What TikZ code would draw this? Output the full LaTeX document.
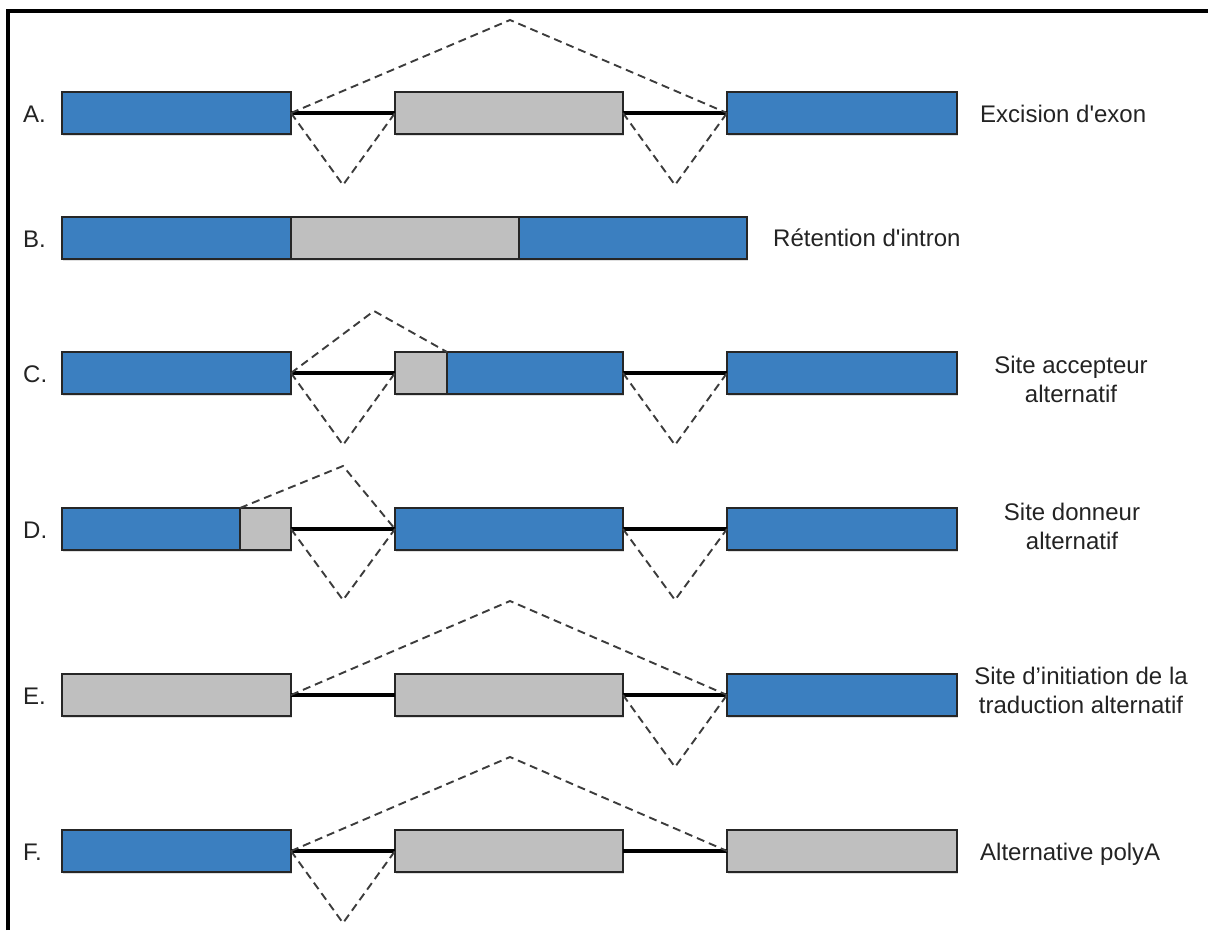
\documentclass[tikz,border=0pt]{standalone}
\usepackage{fontspec}
\setmainfont{Liberation Sans}
\usetikzlibrary{shadows}
\definecolor{exonblue}{RGB}{59,127,192}
\definecolor{introngray}{RGB}{191,191,191}
\definecolor{txt}{RGB}{35,35,35}
\definecolor{dashcol}{RGB}{60,60,60}
\begin{document}
\begin{tikzpicture}[x=1pt,y=-1pt,
  box/.style={draw=black!85, line width=1.6pt, rectangle, inner sep=0pt, outer sep=0pt, minimum height=42pt,
    drop shadow={shadow xshift=1pt, shadow yshift=-1.5pt, opacity=0.25}},
  bluebox/.style={box, fill=exonblue},
  graybox/.style={box, fill=introngray},
  intron/.style={line width=3.4pt, black},
  splice/.style={dash pattern=on 8pt off 5pt, line width=1.9pt, dashcol},
  lettertext/.style={anchor=base west, text=txt, font=\fontsize{24}{29}\selectfont, inner sep=0pt},
  desc/.style={text=txt, font=\fontsize{24}{29}\selectfont, inner sep=0pt, align=center}
]
\useasboundingbox (0,0) rectangle (1208,930);
\draw[line width=3.5pt] (8,930) -- (8,11) -- (1208,11);

% Row A
\node[bluebox, minimum width=229pt] (a1) at (176.5,113) {};
\node[graybox, minimum width=228pt] (a2) at (509,113) {};
\node[bluebox, minimum width=230pt] (a3) at (842,113) {};
\coordinate (ua) at (510,20);
\coordinate (va1) at (343,185);
\coordinate (va2) at (675,185);
\draw[intron] (a1.east) -- (a2.west);
\draw[intron] (a2.east) -- (a3.west);
\draw[splice] (a1.east) -- (ua) -- (a3.west);
\draw[splice] (a1.east) -- (va1) -- (a2.west);
\draw[splice] (a2.east) -- (va2) -- (a3.west);

% Row B
\node[bluebox, minimum width=229pt] (b1) at (176.5,238) {};
\node[graybox, minimum width=228pt] (b2) at (405,238) {};
\node[bluebox, minimum width=228pt] (b3) at (633,238) {};

% Row C
\node[bluebox, minimum width=229pt] (c1) at (176.5,373) {};
\node[graybox, minimum width=52pt] (c2) at (421,373) {};
\node[bluebox, minimum width=176pt] (c3) at (535,373) {};
\node[bluebox, minimum width=230pt] (c4) at (842,373) {};
\coordinate (uc) at (374,311);
\coordinate (vc1) at (343,445);
\coordinate (vc2) at (675,445);
\draw[intron] (c1.east) -- (c2.west);
\draw[intron] (c3.east) -- (c4.west);
\draw[splice] (c1.east) -- (uc) -- (c3.north west);
\draw[splice] (c1.east) -- (vc1) -- (c2.west);
\draw[splice] (c3.east) -- (vc2) -- (c4.west);

% Row D
\node[bluebox, minimum width=178pt] (d1) at (151,529) {};
\node[graybox, minimum width=51pt] (d2) at (265.5,529) {};
\node[bluebox, minimum width=228pt] (d3) at (509,529) {};
\node[bluebox, minimum width=230pt] (d4) at (842,529) {};
\coordinate (ud) at (343,466);
\coordinate (vd1) at (343,600);
\coordinate (vd2) at (675,600);
\draw[intron] (d2.east) -- (d3.west);
\draw[intron] (d3.east) -- (d4.west);
\draw[splice] (d2.north west) -- (ud) -- (d3.west);
\draw[splice] (d2.east) -- (vd1) -- (d3.west);
\draw[splice] (d3.east) -- (vd2) -- (d4.west);

% Row E
\node[graybox, minimum width=229pt] (e1) at (176.5,695) {};
\node[graybox, minimum width=228pt] (e2) at (509,695) {};
\node[bluebox, minimum width=230pt] (e3) at (842,695) {};
\coordinate (ue) at (510,601);
\coordinate (ve) at (675,767);
\draw[intron] (e1.east) -- (e2.west);
\draw[intron] (e2.east) -- (e3.west);
\draw[splice] (e1.east) -- (ue) -- (e3.west);
\draw[splice] (e2.east) -- (ve) -- (e3.west);

% Row F
\node[bluebox, minimum width=229pt] (f1) at (176.5,851) {};
\node[graybox, minimum width=228pt] (f2) at (509,851) {};
\node[graybox, minimum width=230pt] (f3) at (842,851) {};
\coordinate (uf) at (510,757);
\coordinate (vf) at (343,923);
\draw[intron] (f1.east) -- (f2.west);
\draw[intron] (f2.east) -- (f3.west);
\draw[splice] (f1.east) -- (uf) -- (f3.west);
\draw[splice] (f1.east) -- (vf) -- (f2.west);

% Row letters
\node[lettertext] (la) at (23,122) {A.};
\node[lettertext] (lb) at (23,247) {B.};
\node[lettertext] (lc) at (23,382) {C.};
\node[lettertext] (ld) at (23,538) {D.};
\node[lettertext] (le) at (23,704) {E.};
\node[lettertext] (lf) at (23,860) {F.};

% Descriptions
\node[desc, anchor=base west] (ta) at (980,122) {Excision d\textquotesingle exon};
\node[desc, anchor=base west] (tb) at (773,246) {Rétention d\textquotesingle intron};
\node[desc] (tc) at (1071,379) {Site accepteur\\alternatif};
\node[desc] (td) at (1072,526) {Site donneur\\alternatif};
\node[desc] (te) at (1081,690) {Site d’initiation de la\\traduction alternatif};
\node[desc, anchor=base west] (tf) at (980,860) {Alternative polyA};
\end{tikzpicture}
\end{document}
